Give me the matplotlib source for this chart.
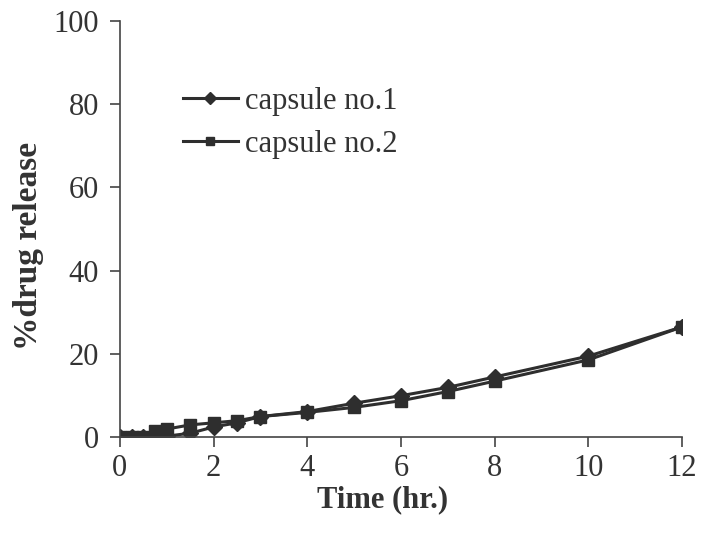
import matplotlib
matplotlib.use("Agg")
import matplotlib.pyplot as plt

# time points (hr.)
time = [0, 0.25, 0.5, 0.75, 1, 1.5, 2, 2.5, 3, 4, 5, 6, 7, 8, 10, 12]
# % drug release
capsule1 = [0, 0, 0, 0, 0.3, 1.0, 2.5, 3.5, 5.0, 6.2, 8.2, 10.0, 12.0, 14.5, 19.5, 26.5]
capsule2 = [0, 0, 0, 1.5, 2.0, 3.0, 3.5, 4.0, 5.0, 6.0, 7.2, 8.8, 11.0, 13.5, 18.6, 26.5]

plt.rcParams['font.family'] = ['Liberation Serif', 'DejaVu Serif']

fig = plt.figure(figsize=(7.01, 5.40), dpi=100)
ax = fig.add_axes([0.171, 0.190, 0.802, 0.772])

col = '#2e2e2e'
ax.plot(time, capsule1, color=col, lw=2.2, marker='D', ms=8, mfc=col, mec=col,
        label='capsule no.1')
ax.plot(time, capsule2, color=col, lw=2.2, marker='s', ms=9, mfc=col, mec=col,
        label='capsule no.2')

ax.set_xlim(0, 12)
ax.set_ylim(0, 100)
ax.set_xticks([0, 2, 4, 6, 8, 10, 12])
ax.set_yticks([0, 20, 40, 60, 80, 100])
for s in ['top', 'right']:
    ax.spines[s].set_visible(False)
for s in ['left', 'bottom']:
    ax.spines[s].set_color('#444444')
    ax.spines[s].set_linewidth(1.2)
ax.tick_params(axis='both', direction='out', length=7, width=1.2,
               color='#444444', labelsize=22, labelcolor='#333333')
ax.tick_params(axis='y', pad=8)
ax.tick_params(axis='x', pad=5)

ax.set_xlabel('Time (hr.)', fontsize=22, fontweight='bold', color='#333333')
ax.set_ylabel('%drug release', fontsize=24, fontweight='bold', color='#333333')
ax.xaxis.set_label_coords(0.468, -0.115)
ax.yaxis.set_label_coords(-0.135, 0.46)

leg = ax.legend(loc='upper left', bbox_to_anchor=(0.09, 0.87), frameon=False,
                fontsize=22, handlelength=1.8, handletextpad=0.25, labelspacing=0.45,
                labelcolor='#333333', borderaxespad=0)
for h in leg.legend_handles:
    h.set_markersize(6)

fig.savefig('out.png', dpi=100)
